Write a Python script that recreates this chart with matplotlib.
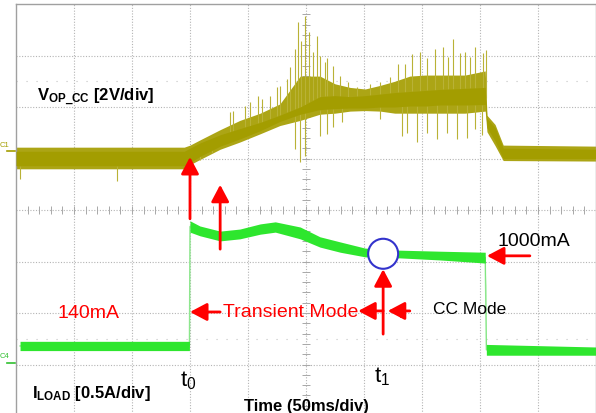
import matplotlib.pyplot as plt
import numpy as np
from matplotlib.patches import Ellipse

plt.rcParams['font.family'] = ['Liberation Sans', 'DejaVu Sans']
plt.rcParams['mathtext.fontset'] = 'custom'
plt.rcParams['mathtext.rm'] = 'Liberation Sans'
plt.rcParams['mathtext.it'] = 'Liberation Sans'
plt.rcParams['mathtext.bf'] = 'Liberation Sans:bold'

# screen units: time in divisions (50 ms/div), level in divisions (0 = bottom)
# C1: V_OP_CC (2 V/div)
time_v = [0.0, 2.9, 3.0, 3.17, 3.52, 3.86, 4.21, 4.55, 4.90, 5.24, 5.50, 5.76,
          6.02, 6.28, 6.53, 6.79, 7.05, 7.31, 7.74, 8.09, 8.12, 8.26, 8.40, 10.0]
core_lo = [4.86, 4.86, 4.92, 5.04, 5.24, 5.38, 5.54, 5.72, 5.86, 5.95, 5.97, 5.98,
           5.98, 6.00, 6.00, 6.02, 6.02, 6.04, 6.04, 6.05, 5.60, 5.34, 5.00, 5.00]
core_hi = [5.14, 5.14, 5.20, 5.30, 5.46, 5.58, 5.70, 5.84, 6.00, 6.20, 6.22, 6.20,
           6.22, 6.25, 6.28, 6.30, 6.32, 6.34, 6.36, 6.38, 5.78, 5.60, 5.20, 5.18]
env_lo = [4.80, 4.80, 4.88, 4.98, 5.18, 5.32, 5.48, 5.64, 5.74, 5.86, 5.88, 5.92,
          5.93, 5.92, 5.88, 5.88, 5.88, 5.88, 5.88, 5.92, 5.52, 5.25, 4.96, 4.95]
env_hi = [5.22, 5.22, 5.26, 5.36, 5.56, 5.74, 5.88, 6.06, 6.60, 6.60, 6.45, 6.38,
          6.35, 6.42, 6.50, 6.60, 6.62, 6.62, 6.62, 6.70, 5.84, 5.66, 5.26, 5.24]
spike_up_t = [3.69, 3.74, 3.95, 4.03, 4.17, 4.24, 4.38, 4.50, 4.55, 4.67, 4.72,
              4.81, 4.86, 4.91, 4.98, 5.05, 5.12, 5.19, 5.24, 5.33, 5.36, 5.47,
              5.59, 5.72, 5.88, 6.10, 6.28, 6.45, 6.59, 6.71, 6.83, 6.97, 7.09,
              7.22, 7.36, 7.45, 7.53, 7.66, 7.74, 7.83, 7.91, 8.05, 8.10]
spike_up_v = [5.90, 5.92, 6.02, 6.10, 6.21, 6.16, 6.21, 6.39, 6.41, 6.54, 6.78,
              7.13, 7.65, 7.28, 7.77, 7.46, 7.07, 7.38, 6.99, 6.87, 6.95, 6.80,
              6.60, 6.49, 6.39, 6.45, 6.49, 6.58, 6.83, 6.83, 7.03, 7.07, 6.95,
              7.13, 7.17, 6.98, 7.32, 7.05, 7.07, 6.98, 7.17, 7.05, 7.10]
spike_dn_t = [0.07, 1.74, 3.17, 3.38, 4.81, 4.90, 4.98, 5.24, 5.36, 5.47, 5.62,
              6.28, 6.66, 6.74, 6.91, 7.09, 7.26, 7.43, 7.60, 7.78, 7.91, 8.03]
spike_dn_v = [4.60, 4.56, 4.98, 5.10, 5.18, 4.93, 5.05, 5.44, 5.48, 5.61, 5.70,
              5.77, 5.44, 5.50, 5.32, 5.50, 5.38, 5.50, 5.38, 5.40, 5.57, 5.45]

# C4: I_LOAD (0.5 A/div)
time_i = [0.07, 2.99, 3.0, 3.17, 3.52, 3.86, 4.21, 4.47, 4.90, 5.24, 5.59, 6.02,
          6.62, 7.31, 8.09, 8.11, 10.0]
i_lo = [1.27, 1.27, 3.57, 3.50, 3.40, 3.44, 3.53, 3.57, 3.44, 3.28, 3.18, 3.09,
        3.07, 3.03, 2.97, 1.18, 1.18]
i_hi = [1.45, 1.45, 3.79, 3.69, 3.59, 3.63, 3.73, 3.77, 3.67, 3.48, 3.38, 3.26,
        3.22, 3.20, 3.18, 1.39, 1.34]

olive = '#a39d00'
green = '#2ee62e'
red = '#ff0000'

fig = plt.figure(figsize=(5.96, 4.14), dpi=100)
ax = fig.add_axes([16 / 596, -3 / 414, 580 / 596, 412 / 414])
ax.set_xlim(0, 10)
ax.set_ylim(0, 8)
ax.set_xticks([])
ax.set_yticks([])
for s in ax.spines.values():
    s.set_color('#a0a0a0')
    s.set_linewidth(1.0)

# graticule
grid_kw = dict(color='#b4b4b4', lw=0.8, linestyle=(0, (1, 1.5)), zorder=0)
for gx in range(1, 10):
    ax.axvline(gx, **grid_kw)
for gy in range(1, 8):
    ax.axhline(gy, **grid_kw)
for gy in [1.5, 6.5]:
    ax.axhline(gy, color='#c4c4c4', lw=0.8, linestyle=(0, (1, 8)), zorder=0)
tx = np.arange(0.2, 10, 0.2)
ax.vlines(tx, 4 - 0.08, 4 + 0.08, color='#a8a8a8', lw=0.7, zorder=0)
ty = np.arange(0.2, 8, 0.2)
ax.hlines(ty, 5 - 0.07, 5 + 0.07, color='#a8a8a8', lw=0.7, zorder=0)

# C1 trace
ax.fill_between(time_v, env_lo, env_hi, color='#aca515', lw=0, zorder=2)
ax.vlines(spike_up_t, np.interp(spike_up_t, time_v, core_hi), spike_up_v,
          color='#b9b236', lw=0.8, zorder=2)
ax.vlines(spike_dn_t, spike_dn_v, np.interp(spike_dn_t, time_v, core_lo),
          color='#b9b236', lw=0.8, zorder=2)
ax.fill_between(time_v, core_lo, core_hi, color=olive, lw=0, zorder=3)

# C4 trace
i_mid = (np.array(i_lo) + np.array(i_hi)) / 2
ax.plot(time_i, i_mid, color='#8ee68e', lw=1, zorder=2)
ax.fill_between(time_i, i_lo, i_hi, color=green, lw=0, zorder=3)

# channel markers
ax.text(-0.2, 5.27, 'C1', color=olive, fontsize=5.5, ha='center', va='center', clip_on=False)
ax.plot([-0.15, -0.01], [5.15, 5.15], color=olive, lw=1.2, clip_on=False)
ax.text(-0.2, 1.17, 'C4', color='#30c030', fontsize=5.5, ha='center', va='center', clip_on=False)
ax.plot([-0.15, -0.01], [1.03, 1.03], color='#30c030', lw=1.2, clip_on=False)

# labels
ax.text(0.36, 6.21, r'V$_{\mathbf{OP\_CC}}$ [2V/div]', fontsize=12, fontweight='bold',
        ha='left', va='center', zorder=5)
ax.text(0.28, 0.46, r'I$_{\mathbf{LOAD}}$ [0.5A/div]', fontsize=12, fontweight='bold',
        ha='left', va='center', zorder=5)
ax.text(5.0, 0.20, 'Time (50ms/div)', fontsize=12, fontweight='bold',
        ha='center', va='center', zorder=5)
ax.text(2.97, 0.70, r't$_0$', fontsize=16, ha='center', va='center', zorder=5)
ax.text(6.31, 0.78, r't$_1$', fontsize=16, ha='center', va='center', zorder=5)
ax.text(0.72, 2.0, '140mA', fontsize=14, color=red, ha='left', va='center', zorder=5)
ax.text(3.57, 2.02, 'Transient Mode', fontsize=14, color=red, ha='left', va='center', zorder=5)
ax.text(7.19, 2.08, 'CC Mode', fontsize=12.5, ha='left', va='center', zorder=5)
ax.text(8.31, 3.40, '1000mA', fontsize=14, ha='left', va='center', zorder=5)

# arrows
arrow_kw = dict(arrowstyle='-|>,head_length=0.85,head_width=0.45', mutation_scale=12,
                color=red, lw=2, shrinkA=0, shrinkB=0)


def arrow(x0, y0, x1, y1):
    ax.annotate('', xy=(x1, y1), xytext=(x0, y0), arrowprops=arrow_kw, zorder=6)


arrow(3.0, 3.83, 3.0, 5.03)
arrow(3.52, 3.24, 3.52, 4.49)
arrow(6.33, 1.59, 6.33, 2.85)
arrow(3.52, 2.02, 3.0, 2.02)
arrow(6.33, 2.04, 5.90, 2.04)
arrow(6.79, 2.04, 6.41, 2.04)
arrow(8.86, 3.11, 8.12, 3.11)
ax.plot([6.64, 6.64], [1.94, 2.14], color=red, lw=2, zorder=6)

ax.add_patch(Ellipse((6.33, 3.15), 0.517, 0.583, facecolor='white',
                     edgecolor='#3333cc', lw=1.5, zorder=7))

plt.savefig('out.png')
plt.close()
